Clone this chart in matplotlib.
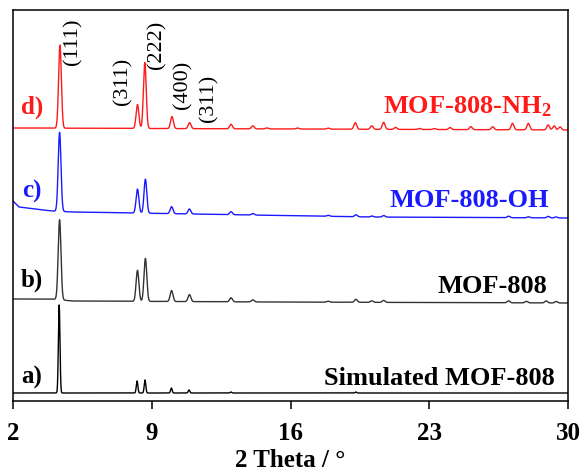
import numpy as np
import matplotlib
matplotlib.use("Agg")
import matplotlib.pyplot as plt

plt.rcParams["font.family"] = ["Liberation Serif", "DejaVu Serif"]
plt.rcParams["mathtext.fontset"] = "custom"
plt.rcParams["mathtext.rm"] = "Liberation Serif:bold"
plt.rcParams["mathtext.default"] = "rm"

# Peak lists: 2theta position, height (arbitrary units)
d_pos = [4.37, 8.28, 8.65, 10.02, 10.91, 13.0, 14.1, 14.8, 16.35, 17.9, 19.27, 20.1,
         20.7, 21.3, 22.5, 23.25, 24.05, 25.1, 26.2, 27.2, 28.0, 29.0, 29.3, 29.6]
d_int = [83, 24, 66, 12, 6, 4.5, 3, 1, 1, 1, 6.5, 3.5,
         7, 2, 1, 1, 2, 3, 3, 6.5, 6.5, 5, 4, 3]

c_pos = [4.35, 8.28, 8.68, 10.0, 10.9, 13.0, 14.1, 17.9, 19.3, 20.1, 20.7, 27.0, 28.0, 29.0, 29.4]
c_int = [79, 24, 34, 7, 5, 3, 1.5, 1, 2, 1, 1.5, 1.5, 1, 1.5, 1]

b_pos = [4.35, 8.28, 8.68, 10.0, 10.9, 13.0, 14.1, 17.9, 19.3, 20.1, 20.7, 27.0, 27.9, 28.9, 29.4]
b_int = [80, 31, 43, 11, 7, 4, 2, 1, 3, 1.5, 2, 2, 1.5, 2, 1.5]

a_pos = [4.33, 8.26, 8.66, 9.99, 10.88, 13.0, 19.3]
a_int = [88, 12, 13, 5, 3, 1, 1]

# background anchor points (2theta, level)
d_bg_x = [2.0, 30.0]
d_bg_y = [273, 271]
c_bg_x = [2.0, 2.3, 3.5, 4.0, 5.0, 8.0, 11.0, 20.0, 30.0]
c_bg_y = [200, 194, 191, 190, 189, 188, 187, 184, 183]
b_bg_x = [2.0, 4.0, 5.0, 15.0, 30.0]
b_bg_y = [102, 102, 100, 99, 98]
a_bg_x = [2.0, 30.0]
a_bg_y = [8, 8]

x_ticks = [2, 9, 16, 23, 30]
hkl_labels = ["(111)", "(311)", "(222)", "(400)", "(311)"]
hkl_x = [5.02, 7.54, 9.25, 10.56, 11.87]
hkl_y = [359, 320, 356, 316, 303]


def pattern(tt, pos, inten, bgx, bgy, sigma):
    y = np.interp(tt, bgx, bgy)
    for p, h in zip(pos, inten):
        y = y + h * np.exp(-0.5 * ((tt - p) / sigma) ** 2)
    return y


tt = np.arange(2.0, 30.0005, 0.005)

fig = plt.figure(figsize=(5.83, 4.74), dpi=100)
ax = fig.add_axes([13 / 583, 73 / 474, 555 / 583, 391 / 474])

ax.plot(tt, pattern(tt, d_pos, d_int, d_bg_x, d_bg_y, 0.07), color="#ff1a1a", lw=1.0)
ax.plot(tt, pattern(tt, c_pos, c_int, c_bg_x, c_bg_y, 0.07), color="#1a1aff", lw=1.0)
ax.plot(tt, pattern(tt, b_pos, b_int, b_bg_x, b_bg_y, 0.07), color="#333333", lw=1.0)
ax.plot(tt, pattern(tt, a_pos, a_int, a_bg_x, a_bg_y, 0.04), color="black", lw=1.0)

# sample tags
tag_font = dict(fontsize=18, fontweight="bold", ha="center", va="center")
ax.text(2.96, 294, "d)", color="#ff1a1a", **tag_font)
ax.text(2.96, 210, "c)", color="#1a1aff", **tag_font)
ax.text(2.96, 121, "b)", color="black", **tag_font)
ax.text(2.96, 24, "a)", color="black", **tag_font)

name_font = dict(fontsize=19, fontweight="bold", ha="right", va="baseline")
ax.text(29.19, 288, r"MOF-808-NH$_2$", color="#ff1a1a", **name_font)
ax.text(29.04, 194, "MOF-808-OH", color="#1a1aff", **name_font)
ax.text(28.94, 108, "MOF-808", color="black", **name_font)
ax.text(29.34, 16, "Simulated MOF-808", color="black", **name_font)

for lab, hx, hy in zip(hkl_labels, hkl_x, hkl_y):
    ax.text(hx, hy, lab, rotation=90, fontsize=16, ha="center", va="center")

ax.set_xlim(2, 30)
ax.set_ylim(0, 391)
ax.set_xticks(x_ticks)
ax.set_xticklabels([str(t) for t in x_ticks], fontsize=18, fontweight="bold")
ax.set_yticks([])
ax.tick_params(axis="x", direction="out", length=6, width=1.1, pad=9)
for s in ax.spines.values():
    s.set_linewidth(1.1)
ax.set_xlabel("2 Theta / °", fontsize=18, fontweight="bold", labelpad=3)

fig.savefig("out.png", dpi=100)
